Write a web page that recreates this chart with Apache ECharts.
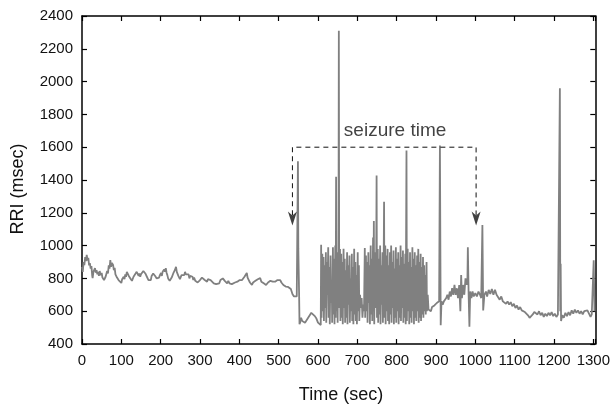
<!DOCTYPE html>
<html>
<head>
<meta charset="utf-8">
<script src="https://cdn.jsdelivr.net/npm/echarts@6/dist/echarts.min.js"></script>
<style>html,body{margin:0;padding:0;background:#fff}#c{width:613px;height:409px}</style>
</head>
<body>
<div id="c"></div>
<script>
// ---- data ----
const xTicks = [0,100,200,300,400,500,600,700,800,900,1000,1100,1200,1300];
const yTicks = [400,600,800,1000,1200,1400,1600,1800,2000,2200,2400];
const xTitle = 'Time (sec)';
const yTitle = 'RRI (msec)';
const annotationText = 'seizure time';
const seizureStart = 535;
const seizureEnd = 1002;
const bracketLevel = 1600;
const arrowLevel = 1165;
const labelPos = [796, 1700];

// [time (sec), RRI (msec)]
const preIctal = [
[0,870],[2,840],[4,900],[6,880],[8,930],[10,905],[12,943],[14,910],[16,925],[18,880],[20,893],[22,860],[24,875],[26,815],[27,802],[29,840],[31,830],[33,862],[35,835],[37,850],[39,825],[41,840],[43,815],[45,845],[47,820],[50,833],[52,805],[54,815],[56,790],[58,780],[60,810],[62,800],[64,845],[66,830],[68,880],[70,860],[72,912],[74,870],[76,895],[79,882],[81,850],[83,865],[85,825],[87,833],[89,805],[91,815],[93,790],[95,800],[97,780],[100,772],[102,795],[104,785],[106,810],[108,795],[110,825],[112,810],[114,840],[117,840],[119,815],[121,825],[123,800],[125,810],[127,785],[129,790],[131,810],[133,800],[135,825],[137,815],[139,840],[142,833],[144,815],[146,830],[148,810],[150,825],[152,835],[154,820],[156,845],[159,851],[161,830],[163,840],[165,810],[167,815],[169,790],[171,780],[173,800],[175,790],[177,815],[179,805],[181,830],[184,840],[186,815],[188,825],[190,800],[192,810],[194,790],[196,805],[198,820],[201,833],[203,815],[205,840],[207,830],[209,855],[211,840],[213,862],[215,835],[217,820],[219,800],[221,810],[223,785],[226,780],[228,805],[230,800],[232,830],[234,820],[236,850],[239,870],[241,840],[243,845],[245,815],[247,820],[249,795],[251,802],[253,820],[255,810],[257,830],[260,820],[262,840],[264,825],[266,835],[268,815],[271,825],[273,800],[275,815],[278,805],[281,810],[283,790],[285,805],[288,785],[291,795],[294,775],[296,785],[298,772],[300,790],[302,780],[305,805],[307,795],[310,810],[312,790],[315,800],[318,780],[320,795],[323,785],[325,800],[327,790],[330,780],[332,790],[335,770],[338,780],[341,765],[344,760],[346,775],[349,770],[352,790],[355,780],[358,800],[361,802],[363,785],[366,790],[369,770],[372,785],[375,770],[378,780],[381,765],[384,770],[386,760],[389,775],[392,765],[395,780],[398,775],[401,790],[404,780],[407,790],[410,785],[413,810],[416,800],[419,833],[421,805],[424,790],[427,775],[430,770],[432,760],[435,775],[438,770],[441,785],[444,780],[447,795],[450,790],[453,802],[456,780],[459,785],[462,770],[465,775],[468,760],[470,760],[473,775],[476,770],[479,785],[482,775],[485,780],[488,770],[491,780],[494,775],[497,790],[500,785],[502,802],[504,790],[507,775],[510,780],[512,760],[515,765],[518,750],[521,760],[524,748],[527,755],[529,748],[531,735],[533,720],[535,705],[537,700],[539,690],[541,680],[543,700],[546,690]
];
const ictal = [
[549,1515],[550,980],[552,700],[553,520],[555,535],[557,560],[560,540],[563,550],[567,530],[571,545],[575,560],[579,575],[583,590],[587,580],[592,570],[596,555],[600,530],[604,525],[607,516],
[608,1005],[609,560],[611,950],[612,600],[614,930],[615,540],[617,880],[618,620],[620,960],[621,530],[623,900],[624,700],[626,990],[627,560],[629,870],[630,520],[632,940],[633,650],[635,780],[636,530],[638,990],[639,580],[641,920],[642,520],[644,1000],[645,560],[646,1420],[647,600],[649,960],[650,530],[651,900],[652,700],[653,2310],[654,620],[656,980],[657,540],[659,950],[660,560],[662,900],[663,520],[665,980],[666,620],[668,920],[669,530],[671,850],[672,560],[674,960],[675,520],[677,880],[678,640],[680,940],[681,530],[683,800],[684,600],[686,950],[687,540],[689,870],[690,520],[692,980],[693,580],[695,900],[696,540],[698,820],[699,520],[701,960],[702,600],[704,880],[705,540],[707,700],[709,620],[711,680],[713,560],[715,640],[717,600],
[719,985],[720,560],[722,940],[723,600],[725,900],[726,530],[728,960],[729,650],[731,880],[732,520],[734,1000],[735,580],[737,920],[738,540],[740,1050],[741,600],[742,1150],[743,520],[745,960],[746,620],[748,900],[749,1427],[750,560],[752,980],[753,530],[755,920],[756,580],[758,1000],[759,520],[761,880],[762,640],[764,960],[765,530],[767,900],[768,1268],[769,560],[771,1000],[772,520],[774,940],[775,600],[777,980],[778,540],[780,880],[781,520],[783,960],[784,580],[786,1000],[787,530],[789,900],[790,620],[792,970],[793,520],[795,860],[796,560],[798,990],[799,530],[801,920],[802,600],[804,960],[805,520],[807,880],[808,560],[810,1000],[811,540],[813,930],[814,620],[816,970],[817,530],[819,890],[820,560],[822,950],[823,520],[825,1580],[826,540],[828,980],[829,600],[831,900],[832,520],[834,960],[835,560],[837,870],[838,530],[840,990],[841,600],[843,920],[844,520],[846,960],[847,560],[849,880],[850,540],[852,940],[853,600],[855,980],[856,530],[858,900],[859,560],[861,950],[862,540],[864,870],[865,580],[867,930],[868,560],[870,880],[871,600],[873,820],[874,580],[876,900],[877,600],[879,700],[881,610],[884,620],[887,600],[890,625],[893,615],[896,635],[899,630],[902,650],[905,640],[908,660],[910,1610],[912,515],[914,660],[917,640],[920,660],[923,650],[926,680],[929,700],[932,670],[935,720],[938,690],[941,740],[944,700],[947,760],[950,700],[953,740],[956,680],[959,760],[962,600],[964,820],[966,680],[969,760],[972,700],[975,800],[978,760],[980,800],[981,990],[983,700],[985,505],[987,720],[990,680],[993,720],[996,690],[1000,710]
];
const postIctal = [
[1004,690],[1008,720],[1012,700],[1015,680],[1018,1125],[1020,605],[1023,700],[1027,720],[1030,690],[1034,730],[1038,705],[1042,735],[1046,700],[1050,730],[1054,700],[1058,690],[1062,670],[1066,690],[1070,660],[1074,670],[1078,645],[1082,660],[1086,640],[1090,655],[1094,630],[1098,645],[1102,620],[1106,635],[1110,610],[1114,625],[1118,605],[1122,615],[1126,595],[1130,600],[1134,575],[1138,560],[1142,550],[1146,580],[1150,595],[1154,605],[1158,580],[1162,600],[1166,575],[1170,590],[1174,565],[1178,585],[1182,570],[1186,590],[1190,575],[1194,595],[1198,570],[1202,585],[1206,565],[1210,580],[1213,570],[1215,1960],[1216,600],[1217,890],[1218,540],[1221,575],[1225,560],[1229,590],[1233,570],[1237,595],[1241,575],[1245,605],[1249,585],[1253,610],[1257,590],[1261,605],[1265,585],[1269,600],[1273,580],[1277,600],[1281,590],[1285,605],[1289,585],[1293,565],[1296,580],[1299,570],[1301,910],[1303,600]
];

// ---- chart ----
const rriData = preIctal.concat(ictal, postIctal);
const FONT = '"Liberation Sans", Arial, sans-serif';
const axisCommon = {
  type: 'value', splitLine: {show: false},
  axisLine: {show: true, onZero: false, lineStyle: {color: '#000', width: 1.5}},
  axisTick: {show: true, inside: true, length: 5, lineStyle: {color: '#000', width: 1.2}}
};
const chart = echarts.init(document.getElementById('c'), null, {renderer: 'canvas'});
chart.setOption({
  animation: false,
  backgroundColor: '#fff',
  grid: {left: 82, right: 15, top: 16, bottom: 65, containLabel: false},
  xAxis: [
    Object.assign({}, axisCommon, {position: 'bottom', min: xTicks[0], max: 1305, interval: 100,
      axisLabel: {show: true, margin: 9, color: '#111', fontSize: 15, fontFamily: FONT,
        formatter: v => (xTicks.indexOf(v) >= 0 ? String(v) : '')}}),
    Object.assign({}, axisCommon, {position: 'top', min: xTicks[0], max: 1305, interval: 100, axisLabel: {show: false}})
  ],
  yAxis: [
    Object.assign({}, axisCommon, {position: 'left', min: yTicks[0], max: yTicks[yTicks.length-1], interval: 200,
      axisLabel: {show: true, margin: 9, color: '#111', fontSize: 15, fontFamily: FONT,
        formatter: v => String(v)}}),
    Object.assign({}, axisCommon, {position: 'right', min: yTicks[0], max: yTicks[yTicks.length-1], interval: 200, axisLabel: {show: false}})
  ],
  graphic: [
    {type: 'text', x: 341, y: 395, style: {text: xTitle, font: '18px ' + FONT, fill: '#111', textAlign: 'center', textVerticalAlign: 'middle'}},
    {type: 'text', rotation: Math.PI / 2, x: 18, y: 189, style: {text: yTitle, font: '18px ' + FONT, fill: '#111', textAlign: 'center', textVerticalAlign: 'middle'}}
  ],
  series: [
    {type: 'line', xAxisIndex: 0, yAxisIndex: 0, data: rriData, showSymbol: false, symbol: 'none',
      lineStyle: {color: '#808080', width: 1.8}, z: 2},
    {type: 'line', xAxisIndex: 0, yAxisIndex: 0, symbol: 'none',
      data: [[seizureStart, arrowLevel + 20], [seizureStart, bracketLevel], [seizureEnd, bracketLevel], [seizureEnd, arrowLevel + 20]],
      lineStyle: {color: '#111', width: 1, type: [5, 4]}, z: 3},
    {type: 'scatter', xAxisIndex: 0, yAxisIndex: 0,
      symbol: 'path://M0,0 L5,4 L10,0 L5,14 Z', symbolSize: [9, 14],
      itemStyle: {color: '#111'},
      data: [[seizureStart, arrowLevel], [seizureEnd, arrowLevel]], z: 4},
    {type: 'scatter', xAxisIndex: 0, yAxisIndex: 0, symbolSize: 0, data: [labelPos],
      label: {show: true, position: 'inside', formatter: annotationText, color: '#111', fontSize: 19, fontFamily: FONT}, z: 5}
  ]
});
</script>
</body>
</html>
